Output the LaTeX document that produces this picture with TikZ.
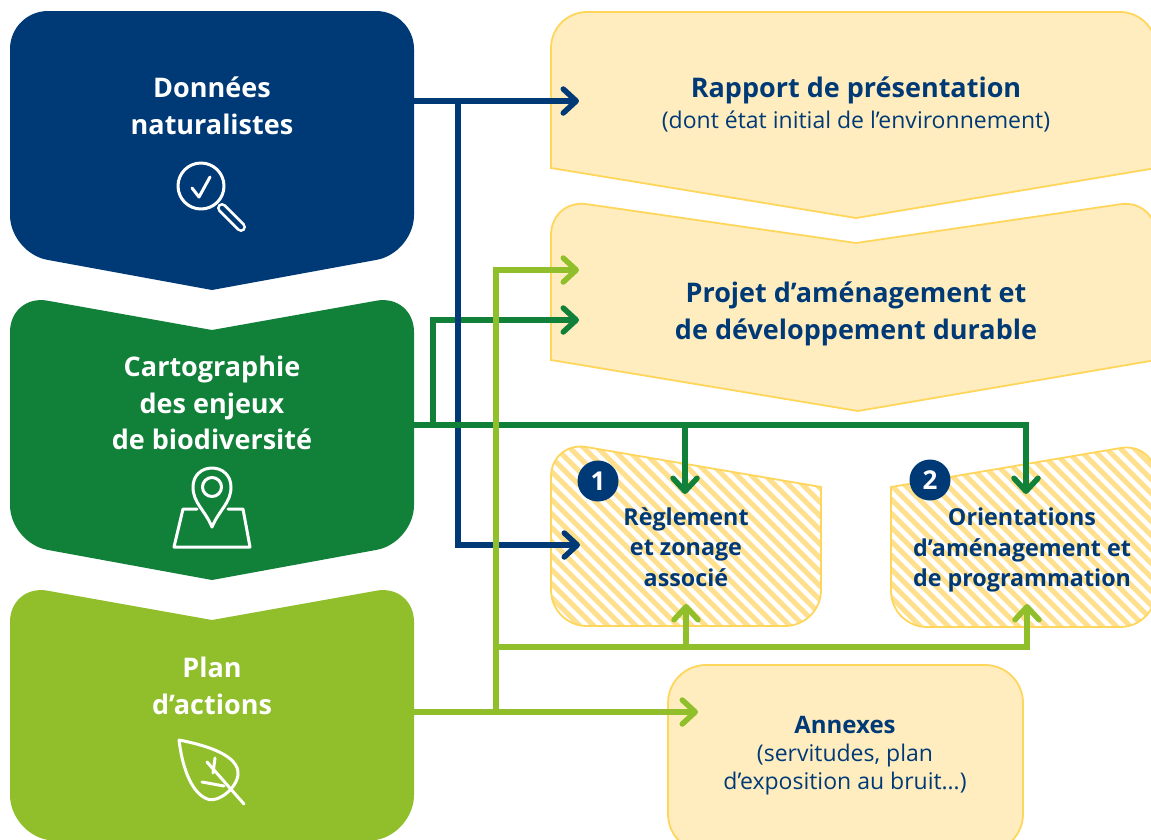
\documentclass[tikz,border=0pt]{standalone}
\usepackage{fontspec}
\setmainfont{Open Sans}[Ligatures=NoCommon]
\usetikzlibrary{arrows.meta}
\definecolor{navy}{HTML}{003A76}
\definecolor{forest}{HTML}{118039}
\definecolor{lime}{HTML}{90BF2B}
\definecolor{paleY}{HTML}{FFEDBF}
\definecolor{edgeY}{HTML}{FFD65C}
\definecolor{hatchY}{HTML}{FFE08F}
\tikzset{
  palebox/.style={fill=paleY,draw=edgeY,line width=1.8pt},
  hatchedge/.style={draw=edgeY,line width=1.8pt},
  hatchline/.style={draw=hatchY,line width=5pt},
  link/.style={line width=5.5pt,-{Straight Barb[length=13pt,width=24pt,round]}},
  plainlink/.style={line width=5.5pt},
  wtitle/.style={text=white,font=\fontsize{27}{36.5}\selectfont\bfseries,align=center,inner sep=0pt},
  ntitle/.style={text=navy,font=\fontsize{27}{37}\selectfont\bfseries,align=center,inner sep=0pt},
  nsub/.style={text=navy,font=\fontsize{23}{28}\selectfont,align=center,inner sep=0pt},
  nmid/.style={text=navy,font=\fontsize{23.3}{30.5}\selectfont\bfseries,align=center,inner sep=0pt},
  badge/.style={circle,fill=navy,text=white,minimum size=41pt,inner sep=0pt,font=\fontsize{26}{26}\selectfont\bfseries},
  icon/.style={draw=white,line width=3pt,line join=round,line cap=round},
}
\begin{document}
\begin{tikzpicture}[x=1pt,y=-1pt]
\useasboundingbox (0,0) rectangle (1151,839);
\clip (0,0) rectangle (1151,839);
\fill[white] (0,0) rectangle (1151,839);

% left blocks
\path[fill=navy] (10,150) [rounded corners=38pt] -- (10,11) -- (414,11) -- (414,253) [sharp corners] -- (212,290) [rounded corners=38pt] -- (10,253) [sharp corners] -- (10,150) -- cycle;
\path[fill=forest] (10,420) [rounded corners=38pt] -- (10,294) [sharp corners] -- (212,330) [rounded corners=38pt] -- (414,294) -- (414,543) [sharp corners] -- (212,580) [rounded corners=38pt] -- (10,543) [sharp corners] -- (10,420) -- cycle;
\path[fill=lime] (10,700) [rounded corners=38pt] -- (10,584) [sharp corners] -- (212,620) [rounded corners=38pt] -- (414,584) -- (414,833) [sharp corners] -- (212,870) [rounded corners=38pt] -- (10,833) [sharp corners] -- (10,700) -- cycle;

% right pale blocks
\path[palebox] (551,100) [rounded corners=36pt] -- (551,12) -- (1156,12) [sharp corners] -- (1156,168) -- (856,218) -- (551,168) -- (551,100) -- cycle;
\path[palebox] (551,300) [rounded corners=36pt] -- (551,199) [sharp corners] -- (856,243) [rounded corners=36pt] -- (1156,199) [sharp corners] -- (1156,360) -- (858,411) -- (551,360) -- (551,300) -- cycle;
\path[palebox] (668,750) [rounded corners=38pt] -- (668,665) -- (1023,665) -- (1023,852) -- (668,852) [sharp corners] -- (668,750) -- cycle;

% hatched blocks
\begin{scope}
\clip (551,530) [rounded corners=36pt] -- (551,441) [sharp corners] -- (821,487) [rounded corners=36pt] -- (821,626) -- (551,626) [sharp corners] -- (551,530) -- cycle;
\foreach \hx in {300,314,...,1000}{\path[hatchline] (\hx,430) -- (\hx+210,640);}
\end{scope}
\path[hatchedge] (551,530) [rounded corners=36pt] -- (551,441) [sharp corners] -- (821,487) [rounded corners=36pt] -- (821,626) -- (551,626) [sharp corners] -- (551,530) -- cycle;
\begin{scope}
\clip (891,550) [sharp corners] -- (891,487) [rounded corners=36pt] -- (1156,442) -- (1156,627) -- (891,627) [sharp corners] -- (891,550) -- cycle;
\foreach \hx in {640,654,...,1340}{\path[hatchline] (\hx,430) -- (\hx+210,640);}
\end{scope}
\path[hatchedge] (891,550) [sharp corners] -- (891,487) [rounded corners=36pt] -- (1156,442) -- (1156,627) -- (891,627) [sharp corners] -- (891,550) -- cycle;

% connector ends
\coordinate (outA) at (414,101);
\coordinate (outB) at (414,425);
\coordinate (outC) at (414,712);
\coordinate (toRapport) at (579,101);
\coordinate (toReglementW) at (580,545);
\coordinate (jA) at (458,101);
\coordinate (kA) at (458,545);
\coordinate (jB) at (433,425);
\coordinate (kB) at (433,320);
\coordinate (toProjetB) at (579,320);
\coordinate (jB2) at (685,425);
\coordinate (toReglementN) at (685,494);
\coordinate (kB3) at (1026,425);
\coordinate (toOrientN) at (1026,494);
\coordinate (toAnnexes) at (698,712);
\coordinate (jC) at (496,712);
\coordinate (kC) at (496,270);
\coordinate (toProjetC) at (579,270);
\coordinate (jC2) at (496,647);
\coordinate (jC3) at (686,647);
\coordinate (toReglementS) at (686,604);
\coordinate (kC4) at (1027,647);
\coordinate (toOrientS) at (1027,604);

% connectors
\draw[link,forest] (jB) -- (kB) -- (toProjetB);
\draw[link,navy] (outA) -- (toRapport);
\draw[link,navy] (jA) -- (kA) -- (toReglementW);
\draw[link,forest] (jB2) -- (toReglementN);
\draw[link,forest] (outB) -- (kB3) -- (toOrientN);
\draw[link,lime] (outC) -- (toAnnexes);
\draw[link,lime] (jC) -- (kC) -- (toProjetC);
\draw[link,lime] (jC3) -- (toReglementS);
\draw[link,lime] (jC2) -- (kC4) -- (toOrientS);

% badges
\node[badge] (b1) at (598,481) {1};
\node[badge] (b2) at (930,480) {2};

% texts
\node[wtitle] (donnees) at (212,106) {Données\\naturalistes};
\node[wtitle] (cartes) at (212,403) {Cartographie\\des enjeux\\de biodiversité};
\node[wtitle] (plan) at (212,686) {Plan\\d’actions};
\node[ntitle] (rapport) at (856,90) {Rapport de présentation};
\node[nsub] (rapportsub) at (856,122) {(dont état initial de l’environnement)};
\node[ntitle] (projet) at (856,314) {Projet d’aménagement et\\de développement durable};
\node[nmid] (reglement) at (686,547) {Règlement\\et zonage\\associé};
\node[nmid] (orient) at (1022,550) {Orientations\\d’aménagement et\\de programmation};
\node[text=navy,font=\fontsize{24}{28}\selectfont\bfseries,inner sep=0pt] (annexes) at (845,725) {Annexes};
\node[nsub] (annexesub) at (845,770) {(servitudes, plan\\d’exposition au bruit…)};

% icons
\draw[icon] (201,186) circle (23);
\draw[icon] (192,188) -- (199,197) -- (210,177);
\draw[white,line width=10pt,line cap=round] (222,208) -- (241,227);
\draw[navy,line width=4.5pt,line cap=round] (222,208) -- (241,227);

\draw[icon] (212,527) .. controls (205,510) and (193,503) .. (193,487) .. controls (193,475) and (202,468) .. (212,468) .. controls (222,468) and (231,475) .. (231,487) .. controls (231,503) and (219,510) .. (212,527) -- cycle;
\draw[icon] (212,487) circle (9.5);
\draw[icon] (197,509) -- (183,509) -- (174,547) -- (250,547) -- (243,509) -- (228,509);

\draw[icon] (179,740) .. controls (205,745) and (240,755) .. (238,775) .. controls (236,790) and (215,805) .. (205,798) .. controls (190,790) and (182,765) .. (179,740) -- cycle;
\draw[icon] (207,762) -- (244,804);
\draw[icon] (215,758) -- (213,773);
\draw[icon] (202,782) -- (224,786);
\end{tikzpicture}
\end{document}
